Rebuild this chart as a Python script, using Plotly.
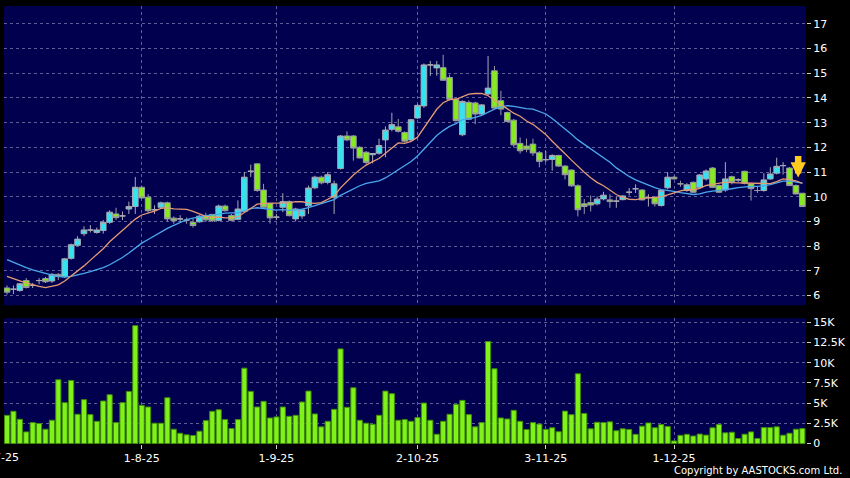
import plotly.graph_objects as go

# ---------------- data ----------------
opens = [6.30, 6.25, 6.20, 6.60, 6.40, 6.60, 6.68, 6.58, 6.85, 6.75,
         7.50, 8.03, 8.50, 8.65, 8.55, 8.63, 8.96, 9.30, 9.22, 9.50,
         9.60, 10.38, 9.98, 9.47, 9.57, 9.75, 9.13, 9.10, 9.05, 8.96,
         8.98, 9.23, 9.28, 9.04, 9.62, 9.24, 9.08, 9.40, 11.03, 11.33,
         10.27, 9.73, 9.17, 9.57, 9.80, 9.10, 9.22, 9.63, 10.36, 10.79,
         10.58, 9.98, 11.14, 12.46, 12.46, 12.00, 11.80, 11.70, 11.76, 12.30,
         12.73, 12.83, 12.60, 12.30, 13.19, 13.68, 15.34, 15.22, 15.23, 14.83,
         13.95, 12.51, 13.82, 13.80, 13.35, 14.16, 15.10, 13.89, 13.41, 13.10,
         12.16, 12.05, 12.13, 11.78, 11.50, 11.51, 11.67, 11.24, 11.08, 10.44,
         9.71, 9.76, 9.71, 9.91, 9.87, 9.82, 9.88, 10.18, 10.32, 10.27,
         9.96, 9.98, 9.64, 10.36, 10.79, 10.52, 10.25, 10.58, 10.38, 10.72,
         11.16, 10.45, 10.27, 10.81, 10.68, 11.03, 10.52, 10.25, 10.25, 10.72,
         10.95, 11.26, 11.16, 10.45, 10.14]
highs = [6.40, 6.40, 6.50, 6.70, 6.50, 6.70, 6.75, 6.90, 6.90, 7.52,
         8.10, 8.40, 8.80, 8.85, 8.75, 9.05, 9.45, 9.55, 9.40, 9.80,
         10.80, 10.45, 10.10, 9.65, 9.80, 9.80, 9.20, 9.25, 9.15, 9.10,
         9.25, 9.35, 9.30, 9.68, 9.68, 9.30, 9.85, 11.00, 11.30, 11.35,
         10.52, 9.73, 9.30, 10.14, 9.85, 9.55, 9.50, 10.45, 10.85, 10.85,
         11.00, 10.65, 12.50, 12.65, 12.50, 12.05, 11.85, 11.75, 12.35, 12.85,
         13.40, 13.15, 12.65, 13.15, 13.75, 15.40, 15.50, 15.50, 15.75, 14.95,
         14.00, 13.90, 13.90, 13.85, 13.75, 15.70, 15.30, 14.29, 13.45, 13.15,
         12.40, 12.35, 12.35, 11.85, 11.85, 11.72, 11.70, 11.28, 11.10, 10.50,
         9.90, 10.05, 10.00, 10.20, 10.10, 10.00, 10.05, 10.35, 10.50, 10.30,
         10.10, 10.00, 10.25, 11.00, 10.85, 10.65, 10.55, 10.62, 10.92, 11.10,
         11.20, 10.50, 11.40, 10.85, 10.75, 11.05, 10.55, 10.40, 10.95, 11.19,
         11.58, 11.40, 11.20, 10.50, 10.15]
lows = [6.03, 6.05, 6.15, 6.28, 6.30, 6.45, 6.50, 6.50, 6.62, 6.70,
        7.45, 8.00, 8.40, 8.55, 8.50, 8.50, 8.90, 9.05, 9.05, 9.30,
        9.30, 9.90, 9.35, 9.30, 9.50, 9.00, 8.90, 8.98, 8.90, 8.75,
        8.95, 8.98, 8.98, 9.00, 9.40, 9.00, 9.05, 9.35, 10.80, 10.20,
        9.55, 8.91, 9.05, 9.37, 9.20, 9.00, 9.10, 9.30, 10.30, 10.50,
        10.50, 9.30, 11.10, 12.25, 11.46, 11.55, 11.30, 11.35, 11.70, 11.60,
        12.65, 12.60, 12.20, 12.25, 13.15, 13.60, 14.90, 14.90, 14.70, 13.90,
        13.05, 12.45, 13.10, 12.94, 13.30, 14.10, 13.55, 13.30, 13.00, 12.00,
        11.75, 11.80, 11.65, 11.19, 11.40, 11.05, 11.20, 10.70, 10.40, 9.20,
        9.30, 9.40, 9.65, 9.85, 9.55, 9.55, 9.85, 10.05, 10.15, 9.85,
        9.60, 9.60, 9.60, 10.30, 10.70, 10.40, 10.20, 10.15, 10.33, 10.65,
        10.35, 10.15, 10.20, 10.50, 10.60, 10.50, 9.84, 10.15, 10.20, 10.68,
        10.90, 10.90, 10.45, 10.10, 9.60]
closes = [6.13, 6.25, 6.47, 6.32, 6.40, 6.60, 6.55, 6.85, 6.77, 7.48,
          8.05, 8.28, 8.65, 8.65, 8.65, 8.96, 9.37, 9.15, 9.22, 9.60,
          10.38, 9.95, 9.43, 9.47, 9.75, 9.10, 9.02, 9.10, 9.05, 8.83,
          9.21, 9.06, 9.02, 9.62, 9.43, 9.04, 9.50, 10.79, 11.03, 10.25,
          9.57, 9.14, 9.17, 9.80, 9.23, 9.50, 9.46, 10.35, 10.79, 10.56,
          10.89, 10.52, 12.46, 12.30, 11.97, 11.57, 11.39, 11.75, 12.07, 12.70,
          12.92, 12.65, 12.25, 13.12, 13.70, 15.34, 15.34, 15.34, 14.72, 13.95,
          13.08, 13.86, 13.14, 13.35, 13.72, 14.40, 13.59, 13.55, 13.05, 12.10,
          11.86, 11.92, 11.77, 11.43, 11.50, 11.67, 11.24, 10.89, 10.44, 9.47,
          9.60, 9.66, 9.90, 10.06, 9.80, 9.82, 10.03, 10.18, 10.32, 9.87,
          9.96, 9.71, 10.25, 10.79, 10.72, 10.52, 10.48, 10.18, 10.88, 11.04,
          10.38, 10.18, 10.72, 10.58, 10.68, 10.54, 10.33, 10.25, 10.68, 10.92,
          11.23, 11.26, 10.45, 10.11, 9.60]
# volume in thousands of shares
volumes_k = [3.49, 3.99, 3.00, 1.44, 2.59, 2.47, 1.77, 2.88, 7.89, 5.06,
             7.81, 3.62, 5.43, 3.58, 2.75, 5.26, 6.04, 2.59, 5.06, 6.45,
             14.59, 4.73, 4.52, 2.51, 2.51, 5.67, 1.77, 1.27, 1.07, 0.99,
             1.52, 2.84, 3.99, 4.19, 2.96, 1.85, 2.96, 9.33, 6.45, 4.52,
             5.22, 3.16, 3.29, 4.52, 3.37, 3.49, 5.14, 6.49, 3.66, 2.06,
             2.75, 4.23, 11.71, 4.48, 6.90, 2.88, 2.51, 2.38, 3.49, 6.49,
             6.17, 2.88, 2.96, 2.75, 3.21, 5.01, 2.88, 1.15, 2.75, 3.62,
             4.85, 5.34, 3.58, 2.06, 2.59, 12.62, 9.25, 3.16, 3.04, 4.11,
             2.75, 1.73, 2.59, 2.40, 1.75, 1.95, 1.46, 4.01, 3.57, 8.63,
             3.73, 1.82, 2.63, 2.59, 2.68, 1.58, 1.82, 1.74, 1.14, 2.15,
             2.55, 1.95, 2.35, 2.11, 0.32, 1.01, 1.14, 0.93, 1.17, 1.04,
             1.94, 2.36, 1.32, 1.40, 0.62, 1.15, 1.44, 0.62, 1.97, 1.97,
             2.06, 1.03, 1.27, 1.77, 1.85]
# closes of the sessions just before the window (estimated from where the
# moving-average lines enter the chart)
closes_before_window = [8.6, 8.5, 8.4, 8.3, 8.2, 8.1, 8.0, 7.9, 7.7, 7.6,
                        7.3, 7.25, 7.2, 7.2, 7.15, 7.1, 6.4, 6.1, 5.9]

ma_fast_days = 10
ma_slow_days = 20

month_tick_index = [-1, 21, 42, 64, 84, 104]
month_tick_labels = ["2-7-25", "1-8-25", "1-9-25", "2-10-25", "3-11-25", "1-12-25"]

price_tickvals = list(range(6, 18))
volume_tickvals = [0, 2500, 5000, 7500, 10000, 12500, 15000]
volume_ticktext = ["0", "2.5K", "5K", "7.5K", "10K", "12.5K", "15K"]

signal_arrow = {"index": 123.35, "price": 10.78}

# ---------------- derived ----------------
n = len(closes)
idx = list(range(n))
volumes = [v * 1000 for v in volumes_k]
series = closes_before_window + closes
off = len(closes_before_window)


def sma(days):
    out = []
    for i in range(n):
        k = off + i
        w = series[k - days + 1:k + 1]
        out.append(sum(w) / len(w))
    return out


ma_fast = sma(ma_fast_days)
ma_slow = sma(ma_slow_days)

# ---------------- styling ----------------
BG = "#000000"
PLOT_BG = "#00004f"
GRID = "#5e5e96"
FONT = "DejaVu Sans"
x_range = [-0.47, 124.57]

fig = go.Figure()

fig.add_trace(go.Candlestick(
    x=idx, open=opens, high=highs, low=lows, close=closes,
    increasing=dict(fillcolor="#33e4f0", line=dict(color="#a9a9b4", width=1)),
    decreasing=dict(fillcolor="#86ea1e", line=dict(color="#9a9aa4", width=1)),
    whiskerwidth=0, xaxis="x", yaxis="y", showlegend=False, hoverinfo="skip"))

fig.add_trace(go.Scatter(x=idx, y=ma_slow, mode="lines",
                         line=dict(color="#4aa8ec", width=1.3),
                         xaxis="x", yaxis="y", showlegend=False, hoverinfo="skip"))
fig.add_trace(go.Scatter(x=idx, y=ma_fast, mode="lines",
                         line=dict(color="#e49a72", width=1.3),
                         xaxis="x", yaxis="y", showlegend=False, hoverinfo="skip"))

fig.add_trace(go.Bar(x=idx, y=volumes, marker=dict(color="#80f21a", line=dict(color="#3f8c0a", width=1)),
                     xaxis="x2", yaxis="y2", showlegend=False, hoverinfo="skip"))

axis_common = dict(showgrid=True, gridcolor=GRID, gridwidth=1, griddash="3px,3px",
                   zeroline=False, showline=False,
                   tickfont=dict(family=FONT, size=11, color="#ffffff"),
                   tickcolor="#d0d0d0", ticklen=4, tickwidth=1)

fig.update_layout(
    width=850, height=478,
    paper_bgcolor=BG, plot_bgcolor=PLOT_BG,
    margin=dict(l=4, r=42, t=5, b=34),
    showlegend=False,
    bargap=0.2, boxgap=0.12, boxgroupgap=0,
    xaxis=dict(domain=[0, 1], anchor="y", range=x_range,
               tickvals=month_tick_index[1:], showticklabels=False, ticks="",
               rangeslider=dict(visible=False), **{k: v for k, v in axis_common.items() if k not in ("tickfont",)}),
    xaxis2=dict(domain=[0, 1], anchor="y2", range=x_range, matches="x",
                tickvals=month_tick_index[1:], ticktext=month_tick_labels[1:],
                ticks="outside", **axis_common),
    yaxis=dict(domain=[0.3166, 1], anchor="x", side="right", range=[5.596, 17.728],
               tickvals=price_tickvals, ticks="outside", **axis_common),
    yaxis2=dict(domain=[0, 0.287], anchor="x2", side="right", range=[-60, 15500],
                tickvals=volume_tickvals, ticktext=volume_ticktext, ticks="outside", **axis_common),
)

# first month label, clipped at the left edge of the picture
first_frac = (month_tick_index[0] - x_range[0]) / (x_range[1] - x_range[0])
fig.add_annotation(text=month_tick_labels[0], xref="paper", yref="paper",
                   x=first_frac, y=-0.03, xanchor="center", yanchor="middle",
                   showarrow=False, font=dict(family=FONT, size=11, color="#ffffff"))

fig.add_annotation(text="Copyright by AASTOCKS.com Ltd.", xref="paper", yref="paper",
                   x=1.047, y=-0.06, xanchor="right", yanchor="middle",
                   showarrow=False, font=dict(family=FONT, size=10, color="#ffffff"))

fig.add_annotation(x=signal_arrow["index"], y=signal_arrow["price"], xref="x", yref="y",
                   ax=0, ay=-23, text="", showarrow=True, arrowhead=2, arrowsize=0.47,
                   arrowwidth=6.5, arrowcolor="#ffcc1e")

fig.write_html("out.html",
               config={"displayModeBar": False},
               post_script="document.body.style.margin='0';document.body.style.overflow='hidden';"
                           "document.body.style.background='#000';")
